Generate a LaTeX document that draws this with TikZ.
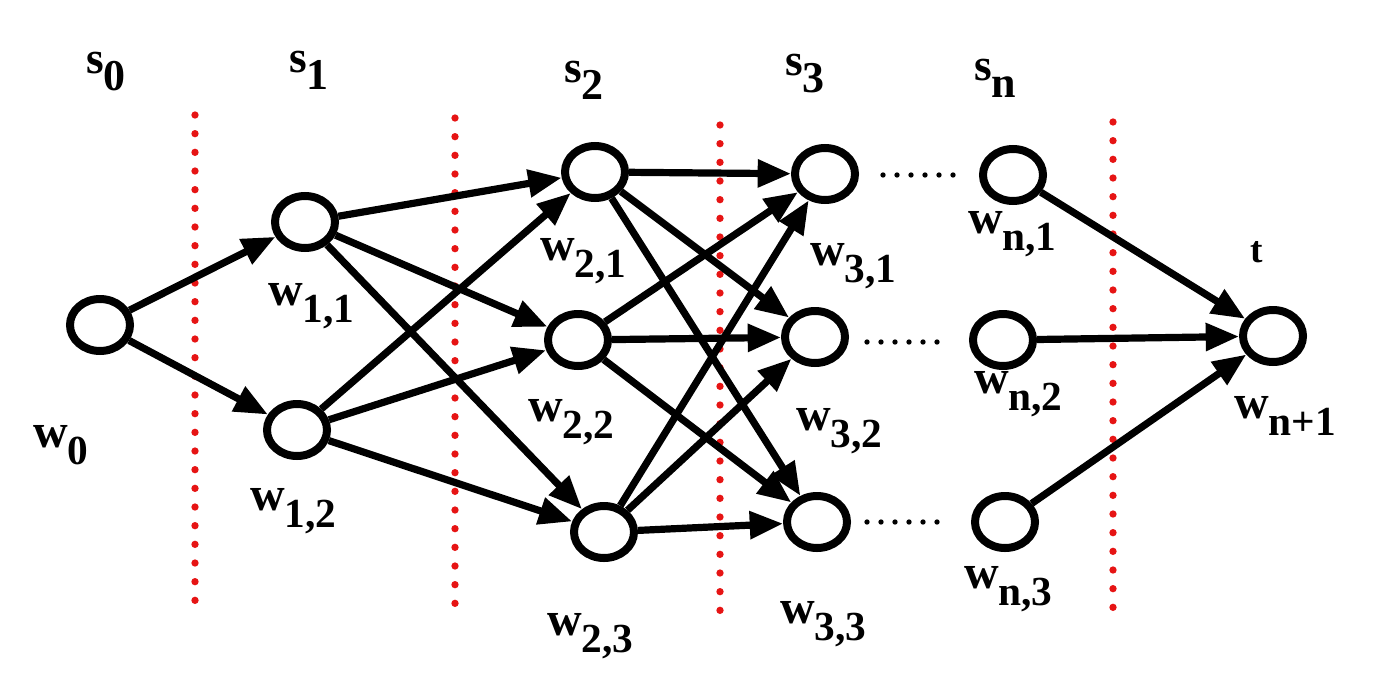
\documentclass[tikz,border=0pt]{standalone}
\usepackage{fontspec}
\setmainfont{Liberation Serif}
\usetikzlibrary{arrows.meta,shapes.geometric}
\definecolor{dotred}{RGB}{230,20,20}
\newcommand{\wlab}[2]{{\fontsize{36}{36}\selectfont\bfseries #1}\raisebox{-13pt}{\fontsize{31}{31}\selectfont\bfseries #2}}
\newcommand{\slab}[2]{{\fontsize{34}{34}\selectfont\bfseries #1}\raisebox{-13pt}{\fontsize{33}{33}\selectfont\bfseries #2}}
\tikzset{
  vert/.style={ellipse,draw=black,fill=white,line width=6pt,minimum width=45pt,minimum height=39pt,inner sep=0pt},
  edge/.style={line width=5.4pt,-{Triangle[length=25pt,width=20pt]}},
  cut/.style={dotred,line width=5.5pt,line cap=round,dash pattern=on 0pt off 14pt},
  ell/.style={black,line width=4pt,line cap=round,dash pattern=on 0pt off 10.5pt},
  lbl/.style={anchor=base west,inner sep=0pt,outer sep=0pt}
}
\begin{document}
\begin{tikzpicture}[x=0.75pt,y=-0.75pt]
\useasboundingbox (0,0) rectangle (1384,696);
% cut lines
\coordinate (c1a) at (195,115); \coordinate (c1b) at (195,607);
\coordinate (c2a) at (455,118); \coordinate (c2b) at (455,610);
\coordinate (c3a) at (720,125); \coordinate (c3b) at (720,615);
\coordinate (c4a) at (1113,122); \coordinate (c4b) at (1113,615);
\draw[cut] (c1a) -- (c1b);
\draw[cut] (c2a) -- (c2b);
\draw[cut] (c3a) -- (c3b);
\draw[cut] (c4a) -- (c4b);
% nodes
\node[vert] (w0) at (100,325) {};
\node[vert] (w11) at (305,222) {};
\node[vert] (w12) at (297,430) {};
\node[vert] (w21) at (595,172) {};
\node[vert] (w22) at (578,340) {};
\node[vert] (w23) at (604,532) {};
\node[vert] (w31) at (825,174) {};
\node[vert] (w32) at (815,337) {};
\node[vert] (w33) at (817,522) {};
\node[vert] (wn1) at (1013,175) {};
\node[vert] (wn2) at (1003,340) {};
\node[vert] (wn3) at (1005,522) {};
\node[vert] (t) at (1273,336) {};
% edges
\draw[edge] (w0) -- (w11);
\draw[edge] (w0) -- (w12);
\foreach \a in {w11,w12}{\foreach \b in {w21,w22,w23}{\draw[edge] (\a) -- (\b);}}
\foreach \a in {w21,w22,w23}{\foreach \b in {w31,w32,w33}{\draw[edge] (\a) -- (\b);}}
\draw[edge] (wn1) -- (t);
\draw[edge] (wn2) -- (t);
\draw[edge] (wn3) -- (t);
% ellipsis dots
\coordinate (d1a) at (883,175); \coordinate (d1b) at (953,175);
\coordinate (d2a) at (867,342); \coordinate (d2b) at (937,342);
\coordinate (d3a) at (867,522); \coordinate (d3b) at (937,522);
\draw[ell] (d1a) -- (d1b);
\draw[ell] (d2a) -- (d2b);
\draw[ell] (d3a) -- (d3b);
% stage labels
\node[lbl] (ls0) at (86,73) {\slab{s}{0}};
\node[lbl] (ls1) at (289,72) {\slab{s}{1}};
\node[lbl] (ls2) at (564,82) {\slab{s}{2}};
\node[lbl] (ls3) at (785,75) {\slab{s}{3}};
\node[lbl] (lsn) at (974,80) {\slab{s}{n}};
% weight labels
\node[lbl] (lw0) at (33,447) {\wlab{w}{0}};
\node[lbl] (lw11) at (268,305) {\wlab{w}{1,1}};
\node[lbl] (lw12) at (250,510) {\wlab{w}{1,2}};
\node[lbl] (lw21) at (540,260) {\wlab{w}{2,1}};
\node[lbl] (lw22) at (528,421) {\wlab{w}{2,2}};
\node[lbl] (lw23) at (547,635) {\wlab{w}{2,3}};
\node[lbl] (lw31) at (810,265) {\wlab{w}{3,1}};
\node[lbl] (lw32) at (796,430) {\wlab{w}{3,2}};
\node[lbl] (lw33) at (780,623) {\wlab{w}{3,3}};
\node[lbl] (lwn1) at (968,233) {\wlab{w}{n,1}};
\node[lbl] (lwn2) at (974,393) {\wlab{w}{n,2}};
\node[lbl] (lwn3) at (964,588) {\wlab{w}{n,3}};
\node[lbl] (lt) at (1250,262) {{\fontsize{28}{28}\selectfont\bfseries t}};
\node[lbl] (lwt) at (1234,418) {\wlab{w}{n+1}};
\end{tikzpicture}
\end{document}
